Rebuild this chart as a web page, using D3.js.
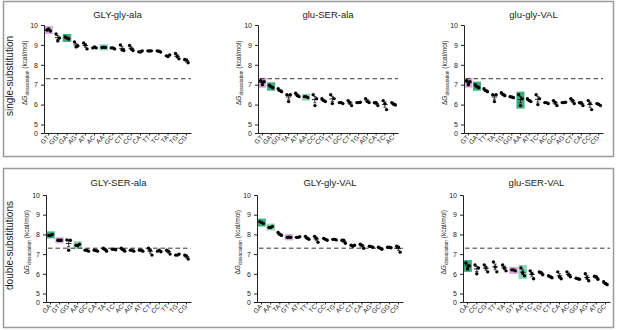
<!DOCTYPE html>
<meta charset="utf-8">
<script src="https://d3js.org/d3.v7.min.js"></script>
<style>
	body{
		margin:0;
		background:#fff;
		font-family:'Liberation Sans', Arial, sans-serif;
	}
</style>
<div id="chart"></div>
<script>
// dashed reference line (wild-type level)
var refLine = 7.3

// ---- top row: single-substitution ----
var title1 = "GLY-gly-ala"
var cats1 = ["GT","GG","GA","AG","AT","AC","AA","GC","CT","CC","CA","TT","TC","TA","TG","CG"]
var vals1 = [[9.75,9.7,9.8],[9.55,9.35,9.2],[9.4,9.3,9.35],[9.15,8.95,8.9],[9.1,8.8,9.0],[8.85,8.85,8.9],
	[8.87,8.87,8.88],[8.85,8.8,8.85],[9.0,8.72,8.75],[8.97,8.72,8.8],[8.65,8.7,8.64],[8.7,8.7,8.69],
	[8.7,8.64,8.68],[8.45,8.5,8.42],[8.57,8.3,8.42],[8.27,8.1,8.25]]
var hl1 = ["GT","GA","AA"]
var hlKind1 = ["pink","green","mint"]

var title2 = "glu-SER-ala"
var cats2 = ["GT","GA","GG","TA","AT","AA","CC","CG","TT","GC","CT","TG","AG","CA","TC","AC"]
var vals2 = [[7.2,7.15,7.0],[6.97,6.85,6.9],[6.8,6.65,6.7],[6.5,6.5,6.15],[6.57,6.4,6.45],[6.4,6.35,6.4],
	[6.5,6.3,5.95],[6.3,6.15,6.2],[6.5,6.3,6.05],[6.1,6.05,6.1],[6.2,5.95,6.1],[6.1,6.12,6.1],
	[6.3,6.1,6.15],[6.1,5.95,6.1],[6.2,5.75,6.05],[6.1,5.98,6.02]]
var hl2 = ["GT","GA","AA"]
var hlKind2 = ["pink","green","mint"]

var title3 = "glu-gly-VAL"
var cats3 = ["GT","GA","TT","TA","TG","GG","AA","AT","TC","AC","GC","AG","CT","CA","CC","CG"]
var vals3 = [[7.2,7.15,7.0],[7.0,6.85,6.9],[6.8,6.65,6.7],[6.5,6.5,6.15],[6.6,6.45,6.5],[6.4,6.35,6.38],
	[6.5,6.3,5.95],[6.3,6.15,6.2],[6.5,6.3,6.0],[6.1,6.05,6.1],[6.2,5.95,6.1],[6.1,6.12,6.1],
	[6.3,6.05,6.2],[6.1,5.95,6.1],[6.2,5.75,6.05],[6.05,5.95,6.02]]
var hl3 = ["GT","GA","AA"]
var hlKind3 = ["pink","green","green"]

// ---- bottom row: double-substitutions ----
var title4 = "GLY-SER-ala"
var cats4 = ["GA","GT","GG","AA","GC","CA","TA","TC","AC","AG","AT","CT","CC","TT","TG","CG"]
var vals4 = [[7.95,8.0,7.95],[7.7,7.7,7.7],[7.72,7.7,7.2],[7.45,7.5,7.42],[7.2,7.15,7.2],[7.2,7.15,7.18],
	[7.3,7.15,7.25],[7.25,7.22,7.25],[7.3,7.15,7.22],[7.2,7.15,7.2],[7.2,7.15,7.2],[7.3,6.95,7.2],
	[7.15,7.12,7.2],[7.2,7.0,7.15],[6.95,7.0,6.95],[6.95,6.75,6.9]]
var hl4 = ["GA","GT","AA"]
var hlKind4 = ["green","pink","mint"]

var title5 = "GLY-gly-VAL"
var cats5 = ["GA","AA","TA","GT","AT","TT","TC","CC","TG","AC","CT","CA","AG","GC","GG","CG"]
var vals5 = [[8.65,8.55,8.6],[8.35,8.4,8.35],[8.1,7.95,8.0],[7.85,7.85,7.86],[7.85,7.88,7.85],[7.9,7.75,7.8],
	[7.9,7.6,7.8],[7.8,7.7,7.75],[7.75,7.72,7.75],[7.7,7.55,7.7],[7.45,7.45,7.4],[7.5,7.3,7.45],
	[7.4,7.35,7.38],[7.35,7.25,7.3],[7.35,7.32,7.35],[7.4,7.1,7.35]]
var hl5 = ["GA","AA","GT"]
var hlKind5 = ["green","mint","pink"]

var title6 = "glu-SER-VAL"
var cats6 = ["GA","CC","CG","TT","TA","GT","AA","TC","TG","CT","CA","AC","GG","AG","AT","GC"]
var vals6 = [[6.55,6.4,6.25],[6.45,6.3,6.0],[6.45,6.1,6.3],[6.6,6.1,6.35],[6.45,6.15,6.3],[6.2,6.15,6.2],
	[6.3,5.9,6.05],[6.15,5.75,6.0],[6.1,5.95,6.05],[5.9,5.8,5.85],[6.1,5.75,5.85],[6.1,5.85,5.95],
	[5.78,5.72,5.75],[6.0,5.65,5.8],[5.88,5.72,5.85],[5.6,5.45,5.5]]
var hl6 = ["GA","GT","AA"]
var hlKind6 = ["green","pink","mint"]

var rowLabels = ["single-substitution","double-substitutions"]
var yTicks = [0,5,6,7,8,9,10]

var hlColors = {pink:"#dba7dc", green:"#3daf7f", mint:"#8edab8"}

var W = 617, H = 330
var svg = d3.select("#chart").append("svg").attr("width",W).attr("height",H)

// row frames
var rows = [
	{top:1.5, bottom:156.5, y10:25, y5:124.5, y0:133, titleY:18},
	{top:168.5, bottom:327.5, y10:195, y5:293.5, y0:302, titleY:186}
]
rows.forEach(function(r,i){
	svg.append("rect").attr("x",3.5).attr("y",r.top).attr("width",610).attr("height",r.bottom-r.top)
		.attr("fill","none").attr("stroke","#9a9a9a").attr("stroke-width",1.5)
	var cy = (r.y10+r.y0)/2 - 3
	svg.append("text").text(rowLabels[i])
		.attr("transform","translate(13,"+cy+") rotate(-90)")
		.attr("text-anchor","middle").style("font-size","10px").attr("fill","#222")
})

var panels = [
	{title:title1, cats:cats1, vals:vals1, hl:hl1, kind:hlKind1, row:0, x0:44, x1:191},
	{title:title2, cats:cats2, vals:vals2, hl:hl2, kind:hlKind2, row:0, x0:258, x1:398},
	{title:title3, cats:cats3, vals:vals3, hl:hl3, kind:hlKind3, row:0, x0:464, x1:603},
	{title:title4, cats:cats4, vals:vals4, hl:hl4, kind:hlKind4, row:1, x0:46, x1:191},
	{title:title5, cats:cats5, vals:vals5, hl:hl5, kind:hlKind5, row:1, x0:257, x1:403},
	{title:title6, cats:cats6, vals:vals6, hl:hl6, kind:hlKind6, row:1, x0:463, x1:610}
]

panels.forEach(drawPanel)

function drawPanel(p){
	var r = rows[p.row]
	var g = svg.append("g")

	var x = d3.scaleBand().domain(p.cats).range([p.x0,p.x1])
	var y = d3.scaleLinear().domain([0,5,10]).range([r.y0,r.y5,r.y10])
	var bw = x.bandwidth()

	g.append("text").text(p.title).attr("x",(p.x0+p.x1)/2).attr("y",r.titleY)
		.attr("text-anchor","middle").style("font-size","9.5px").attr("fill","#222")

	// highlight boxes
	p.hl.forEach(function(c,i){
		var v = p.vals[p.cats.indexOf(c)]
		var top = y(d3.max(v))-3, bot = y(d3.min(v))+3
		g.append("rect").attr("x",x(c)+0.3).attr("y",top).attr("width",bw-0.6).attr("height",bot-top)
			.attr("fill",hlColors[p.kind[i]])
	})

	// dashed reference
	g.append("line").attr("x1",p.x0+2).attr("x2",p.x1).attr("y1",y(refLine)).attr("y2",y(refLine))
		.attr("stroke","#333").attr("stroke-width",1).attr("stroke-dasharray","4.5,3")

	// y axis
	var yAxis = d3.axisLeft(y).tickValues(yTicks).tickSize(3).tickFormat(d3.format("d"))
	var ya = g.append("g").attr("transform","translate("+p.x0+",0)").call(yAxis)
	ya.select(".domain").attr("stroke","#222")
	ya.selectAll("line").attr("stroke","#222")
	ya.selectAll("text").style("font-size","7px").attr("fill","#222").attr("font-family","'Liberation Sans', Arial, sans-serif")

	// x axis
	var xAxis = d3.axisBottom(x).tickSize(2.5).tickSizeOuter(0)
	var xa = g.append("g").attr("transform","translate(0,"+r.y0+")").call(xAxis)
	xa.select(".domain").attr("stroke","#222")
	xa.selectAll("line").attr("stroke","#222")
	xa.selectAll("text").style("font-size","6.5px").attr("fill","#222")
		.attr("font-family","'Liberation Sans', Arial, sans-serif")
		.attr("text-anchor","end").attr("dy",0).attr("y",0)
		.attr("transform","translate(1,5) rotate(-45)")

	// y label
	var yl = g.append("text").attr("transform","translate("+(p.x0-17)+","+(y(7.6))+") rotate(-90)")
		.attr("text-anchor","middle").style("font-size","6.5px").attr("fill","#222")
	yl.append("tspan").text("\u0394")
	yl.append("tspan").text("G").style("font-style","italic")
	yl.append("tspan").text("dissociation").style("font-size","4.8px").attr("dy",1.5)
	yl.append("tspan").text(" (kcal/mol)").attr("dy",-1.5)

	// points, mean and sem
	var jit = [-1.7,1.7,0]
	p.cats.forEach(function(c,i){
		var v = p.vals[i]
		var cx = x(c)+bw/2
		var m = d3.mean(v)
		var se = d3.deviation(v)/Math.sqrt(v.length)
		g.append("line").attr("x1",cx).attr("x2",cx).attr("y1",y(m-se)).attr("y2",y(m+se))
			.attr("stroke","#111").attr("stroke-width",0.8)
		;[m-se,m+se].forEach(function(e){
			g.append("line").attr("x1",cx-1.5).attr("x2",cx+1.5).attr("y1",y(e)).attr("y2",y(e))
				.attr("stroke","#111").attr("stroke-width",0.8)
		})
		g.append("line").attr("x1",cx-2.8).attr("x2",cx+2.8).attr("y1",y(m)).attr("y2",y(m))
			.attr("stroke","#111").attr("stroke-width",0.9)
		g.selectAll(null).data(v).join("circle")
			.attr("cx",function(d,k){ return cx+jit[k%3] })
			.attr("cy",function(d){ return y(d) })
			.attr("r",1.7).attr("fill","#000")
	})
}
</script>
